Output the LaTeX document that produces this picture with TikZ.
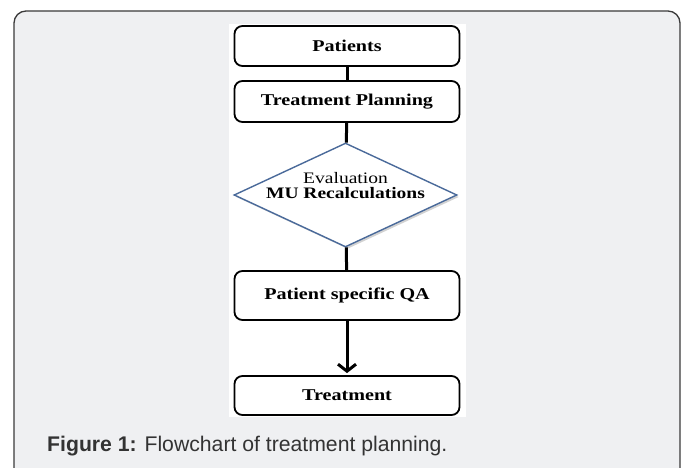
\documentclass[tikz,border=0pt]{standalone}
\usepackage{fontspec}
\setmainfont{Liberation Serif}
\newfontfamily\boxfont{Liberation Serif}[FakeStretch=1.22]
\newfontfamily\capfont{Liberation Sans}
\usetikzlibrary{arrows.meta,shapes.geometric,shadows}

\definecolor{framefill}{HTML}{EFF0F2}
\definecolor{frameline}{HTML}{3A3A3A}
\definecolor{diamondline}{HTML}{4A6A9A}
\definecolor{captext}{HTML}{333333}

\begin{document}
\begin{tikzpicture}[x=1pt, y=-1pt,
    box/.style={draw, rounded corners=8pt, line width=1.8pt, fill=white,
        minimum width=225pt, inner sep=0pt,
        font=\boxfont\fontsize{16.5}{18}\selectfont\bfseries},
    decision/.style={diamond, draw=diamondline, line width=1.4pt, fill=white,
        shape aspect=2.14, minimum width=223pt, minimum height=104pt, inner sep=0pt,
        drop shadow={shadow xshift=2pt, shadow yshift=-2pt, opacity=0.35},
        font=\boxfont\fontsize{16}{15}\selectfont},
    conn/.style={line width=3pt}]

    % Рамка и подложка
    \useasboundingbox (0,0) rectangle (683,468);
    \filldraw[fill=framefill, draw=frameline, line width=1.3pt, rounded corners=12pt]
        (14,11) rectangle (680,500);
    \fill[white] (229,24) rectangle (466,417);

    % Блоки схемы
    \node[box, minimum height=40pt] (patients) at (347,46) {Patients};
    \node[box, minimum height=41pt] (planning) at (347,101.5) {Treatment Planning};
    \node[decision] (evaluation) at (345.5,195)
        {\smash{\raisebox{-4pt}{\begin{tabular}[b]{@{}c@{}}Evaluation\\
            \bfseries MU Recalculations\end{tabular}}}};
    \node[box, minimum height=49pt] (psqa) at (347,295.5) {Patient specific QA};
    \node[box, minimum height=39pt] (treatment) at (347,395.5) {Treatment};

    % Соединения
    \draw[conn] (patients) -- (planning);
    \draw[conn] (planning) -- (evaluation);
    \draw[conn] (evaluation) -- (psqa);
    \draw[conn, -{Straight Barb[length=7pt, width=18pt]}, shorten >=2pt] (psqa) -- (treatment);

    % Подпись
    \node[anchor=west, text=captext, font=\capfont\fontsize{21.2}{24}\selectfont, inner sep=0pt]
        (caption) at (47,446) {\textbf{Figure 1:} Flowchart of treatment planning.};

\end{tikzpicture}
\end{document}
